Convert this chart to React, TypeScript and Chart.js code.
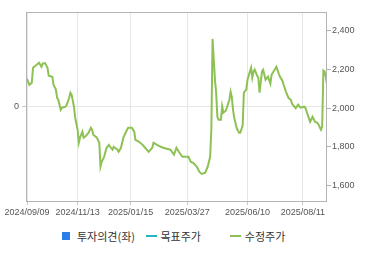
import React, { useEffect, useRef } from "react";
import { Chart, registerables } from "chart.js";

Chart.register(...registerables);

// trading-day index of each read point (0 = 2024/09/09, 249 = last day)
const priceIdx = [
  0, 2, 4, 5, 7, 9, 10, 12, 13, 15, 17, 18, 21, 22, 24, 25, 26, 28, 29, 32, 33, 35, 36, 37, 39, 40, 42, 43, 44, 46, 47, 49, 51, 53, 54, 55, 58, 60,
  61, 62, 64, 66, 68, 69, 71, 72, 75, 76, 78, 80, 83, 84, 87, 89, 90, 93, 96, 98, 101, 104, 105, 108, 111, 113, 116, 119, 122, 124, 126, 129,
  132, 134, 136, 138, 141, 143, 145, 148, 150, 152, 153, 154, 155, 156, 157, 158, 159, 161, 162, 163, 165, 168, 169, 170, 171, 172, 173, 174,
  176, 177, 179, 180, 182, 183, 185, 186, 187, 188, 189, 191, 192, 193, 195, 196, 198, 200, 202, 203, 206, 207, 209, 210, 212, 213, 215, 217,
  219, 220, 223, 225, 227, 230, 231, 233, 235, 237, 239, 241, 242, 244, 245, 246, 247, 248, 249,
];
// 수정주가 (adjusted price)
const priceValues = [
  2151, 2120, 2131, 2208, 2219, 2229, 2234, 2213, 2229, 2232, 2208, 2167, 2162, 2120, 2095, 2053, 2043, 1991, 2002, 2007, 2017, 2053, 2079, 2069, 2007, 1950, 1888, 1821, 1847, 1878, 1847, 1857, 1872, 1898, 1888, 1862, 1847, 1821,
  1698, 1722, 1748, 1795, 1810, 1800, 1785, 1800, 1785, 1774, 1795, 1847, 1888, 1898, 1898, 1878, 1836, 1826, 1810, 1795, 1774, 1795, 1821, 1810, 1800, 1795, 1790, 1785, 1759, 1795, 1774, 1748,
  1748, 1748, 1722, 1717, 1697, 1671, 1660, 1666, 1697, 1748, 1888, 2357, 2250, 2146, 2079, 1955, 1940, 1940, 2009, 1976, 1986, 2043, 2084, 2058, 1991, 1950, 1924, 1898,
  1872, 1872, 1910, 2080, 2095, 2146, 2188, 2208, 2157, 2188, 2198, 2167, 2157, 2079, 2188, 2198, 2146, 2162, 2126, 2172, 2203, 2213, 2177, 2162, 2141, 2120, 2084, 2053,
  2043, 2022, 1999, 2017, 2002, 2007, 2002, 1965, 1929, 1955, 1929, 1924, 1914, 1888, 1904, 2193, 2188, 2162, 2120,
];
// 목표주가 (target price) – no values shown
const targetValues: number[] = [];
// 투자의견 (opinion, left axis) – no values shown
const opinionValues: number[] = [];

const xTickIdx = [0, 42, 86, 133, 183, 229];
const xTickLabels = ["2024/09/09", "2024/11/13", "2025/01/15", "2025/03/27", "2025/06/10", "2025/08/11"];
const rightTicks = [1600, 1800, 2000, 2200, 2400];
const rightTickLabels = ["1,600", "1,800", "2,000", "2,200", "2,400"];
const leftTicks = [0];
const leftTickLabels = ["0"];

const legendItems = [
  { label: "투자의견(좌)", kind: "box", color: "#2b7de9", width: 83.5 },
  { label: "목표주가", kind: "line", color: "#20b6c4", width: 84.3 },
  { label: "수정주가", kind: "line", color: "#8dc153", width: 80 },
];

const frame = {
  id: "frame",
  afterDraw(chart: any) {
    const { ctx, chartArea: a } = chart;
    ctx.save();
    ctx.strokeStyle = "#b4b4b4";
    ctx.lineWidth = 1;
    ctx.strokeRect(Math.round(a.left) - 0.5, Math.round(a.top) + 0.5, Math.round(a.right - a.left), Math.round(a.bottom - a.top));
    ctx.restore();
  },
};

export default function App() {
  const ref = useRef<HTMLCanvasElement>(null);
  useEffect(() => {
    const font = { family: "'Liberation Sans', Arial, sans-serif", size: 9 };
    const chart = new Chart(ref.current!, {
      type: "line",
      data: {
        datasets: [
          {
            type: "bar",
            label: "투자의견(좌)",
            data: opinionValues,
            yAxisID: "yL",
            backgroundColor: "#2b7de9",
          } as any,
          {
            label: "목표주가",
            data: targetValues,
            yAxisID: "yR",
            borderColor: "#20b6c4",
            borderWidth: 2,
            pointRadius: 0,
          },
          {
            label: "수정주가",
            data: priceIdx.map((x, i) => ({ x, y: priceValues[i] })),
            yAxisID: "yR",
            borderColor: "#8dc153",
            borderWidth: 2,
            pointRadius: 0,
            tension: 0,
          },
        ],
      },
      options: {
        responsive: false,
        animation: false,
        layout: { padding: { top: 12, left: 0, right: 0, bottom: 0 } },
        plugins: { legend: { display: false }, tooltip: { enabled: false } },
        scales: {
          x: {
            type: "linear",
            offset: false,
            min: 0,
            max: 249,
            afterBuildTicks: (s: any) => {
              s.ticks = xTickIdx.map((v) => ({ value: v }));
            },
            afterFit: (s: any) => {
              s.height = 21;
            },
            ticks: {
              autoSkip: false,
              maxRotation: 0,
              padding: 2,
              color: "#555",
              font,
              callback: (v: any) => {
                const i = xTickIdx.indexOf(Number(v));
                return i >= 0 ? xTickLabels[i] : "";
              },
            },
            grid: { offset: false, color: "#e6e6e6", tickColor: "#c8c8c8", tickLength: 4 },
            border: { display: false },
          },
          yL: {
            position: "left",
            min: -1,
            max: 1,
            afterBuildTicks: (s: any) => {
              s.ticks = leftTicks.map((v) => ({ value: v }));
            },
            afterFit: (s: any) => {
              s.width = 27;
            },
            ticks: {
              padding: 3,
              color: "#555",
              font,
              callback: (v: any) => {
                const i = leftTicks.indexOf(Number(v));
                return i >= 0 ? leftTickLabels[i] : "";
              },
            },
            grid: { color: "#e6e6e6", tickColor: "#c8c8c8", tickLength: 5 },
            border: { display: false },
          },
          yR: {
            position: "right",
            min: 1520,
            max: 2496,
            afterBuildTicks: (s: any) => {
              s.ticks = rightTicks.map((v) => ({ value: v }));
            },
            afterFit: (s: any) => {
              s.width = 43;
            },
            ticks: {
              padding: 1,
              color: "#555",
              font,
              callback: (v: any) => {
                const i = rightTicks.indexOf(Number(v));
                return i >= 0 ? rightTickLabels[i] : "";
              },
            },
            grid: { drawOnChartArea: false, tickColor: "#b4b4b4", tickLength: 4 },
            border: { display: false },
          },
        },
      },
      plugins: [frame],
    });
    return () => chart.destroy();
  }, []);

  return (
    <div style={{ position: "absolute", left: 0, top: 0, width: 370, height: 255, background: "#fff" }}>
      <canvas ref={ref} width={370} height={222} style={{ display: "block", width: 370, height: 222 }} />
      <div
        style={{
          position: "absolute",
          left: 62,
          top: 228,
          display: "flex",
          alignItems: "center",
          height: 16,
          fontFamily: "'Noto Sans CJK KR', sans-serif",
          fontSize: 11,
          color: "#333",
          whiteSpace: "nowrap",
        }}
      >
        {legendItems.map((it) => (
          <div key={it.label} style={{ width: it.width, display: "flex", alignItems: "center" }}>
            {it.kind === "box" ? (
              <span style={{ width: 8, height: 8, background: it.color, marginRight: 7, display: "inline-block" }} />
            ) : (
              <span style={{ width: 11, height: 2, background: it.color, marginRight: 4, display: "inline-block" }} />
            )}
            <span>{it.label}</span>
          </div>
        ))}
      </div>
    </div>
  );
}
